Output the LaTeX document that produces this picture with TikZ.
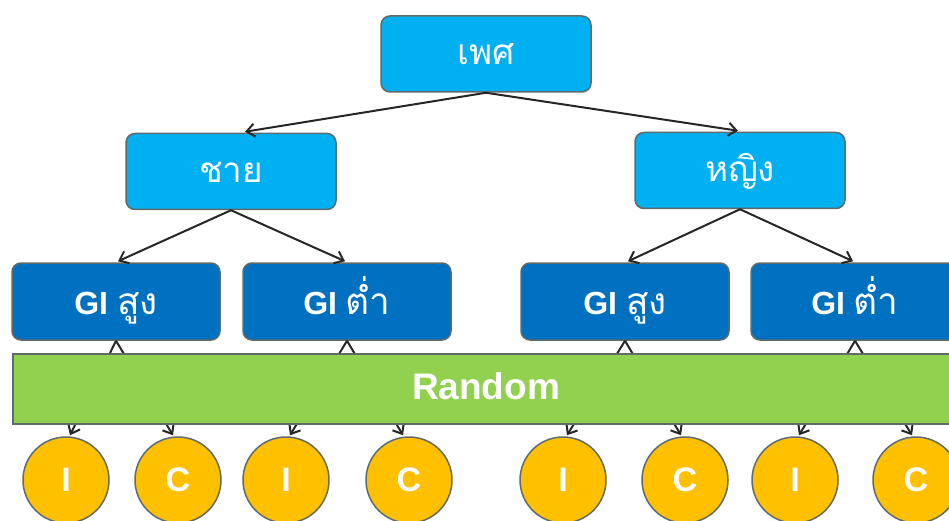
\documentclass[tikz,border=0pt]{standalone}
\usepackage{fontspec}
\setmainfont{Liberation Sans}
\newfontfamily\thaifont[Script=Thai]{Loma}
\usetikzlibrary{arrows.meta,calc}
\definecolor{lblue}{HTML}{00B0F0}
\definecolor{dblue}{HTML}{0070C0}
\definecolor{rgreen}{HTML}{92D050}
\definecolor{corange}{HTML}{FFC000}
\definecolor{edgegray}{HTML}{5F6B6B}
\newcommand{\thgi}[1]{{\thaifont\mdseries\fontsize{37}{40}\selectfont #1}}
\tikzset{
  topbox/.style={draw=edgegray, line width=1.5pt, fill=lblue, rounded corners=9pt,
    minimum width=210pt, minimum height=76pt, inner sep=0pt, text=white,
    text height=26pt, text depth=4pt,
    font=\thaifont\fontsize{35}{40}\selectfont},
  gibox/.style={draw=edgegray, line width=1.5pt, fill=dblue, rounded corners=9pt,
    minimum width=208pt, minimum height=77pt, inner sep=0pt, text=white,
    text height=30pt, text depth=4pt,
    font=\bfseries\fontsize{32}{38}\selectfont},
  randbar/.style={draw=edgegray, line width=1.5pt, fill=rgreen,
    minimum width=960pt, minimum height=70pt, inner sep=0pt},
  circ/.style={draw=edgegray, line width=1.5pt, fill=corange, circle,
    minimum size=86pt, inner sep=0pt, text=white,
    font=\bfseries\fontsize{34}{40}\selectfont},
  conn/.style={draw=black!85, line width=2pt, -{Straight Barb[length=8pt,width=13pt,line width=2pt]}}
}
\begin{document}
\begin{tikzpicture}[x=1pt,y=-1pt]
\clip (0,0) rectangle (949,521);
\fill[white] (0,0) rectangle (949,521);
% top level
\node[topbox] (sex) at (486,54) {เพศ};
\node[topbox] (male) at (231,171.5) {ชาย};
\node[topbox] (female) at (740,170.5) {หญิง};
% GI boxes
\node[gibox] (g1) at (116,301.5) {GI \thgi{สูง}};
\node[gibox] (g2) at (347,301.5) {GI \thgi{ต่ำ}};
\node[gibox] (g3) at (625,301.5) {GI \thgi{สูง}};
\node[gibox] (g4) at (855,301.5) {GI \thgi{ต่ำ}};
% circles
\node[circ] (c1) at (66,480) {I};
\node[circ] (c2) at (178,480) {C};
\node[circ] (c3) at (286,480) {I};
\node[circ] (c4) at (409,480) {C};
\node[circ] (c5) at (563,480) {I};
\node[circ] (c6) at (685,480) {C};
\node[circ] (c7) at (795,480) {I};
\node[circ] (c8) at (916,480) {C};
% connectors behind the Random bar
\draw[conn] (g1.south) -- ($(c1.north)+(4,-1)$);
\draw[conn] (g1.south) -- ($(c2.north)+(-5,-1)$);
\draw[conn] (g2.south) -- ($(c3.north)+(4,-1)$);
\draw[conn] (g2.south) -- ($(c4.north)+(-6,-1)$);
\draw[conn] (g3.south) -- ($(c5.north)+(4,-1)$);
\draw[conn] (g3.south) -- ($(c6.north)+(-4,-1)$);
\draw[conn] (g4.south) -- ($(c7.north)+(4,-1)$);
\draw[conn] (g4.south) -- ($(c8.north)+(-4,-1)$);
% Random bar
\node[randbar, anchor=west] (rand) at (12,389) {};
\node[text=white, font=\bfseries\fontsize{37}{42}\selectfont] (randlabel) at (486,386) {Random};
% tree connectors
\draw[conn] (sex.south) -- ($(male.north)+(14,-1)$);
\draw[conn] (sex.south) -- ($(female.north)+(-2,-1)$);
\draw[conn] (male.south) -- ($(g1.north)+(2,-1)$);
\draw[conn] (male.south) -- ($(g2.north)+(-2,-1)$);
\draw[conn] (female.south) -- ($(g3.north)+(3,-1)$);
\draw[conn] (female.south) -- ($(g4.north)+(-2,-1)$);
\end{tikzpicture}
\end{document}
